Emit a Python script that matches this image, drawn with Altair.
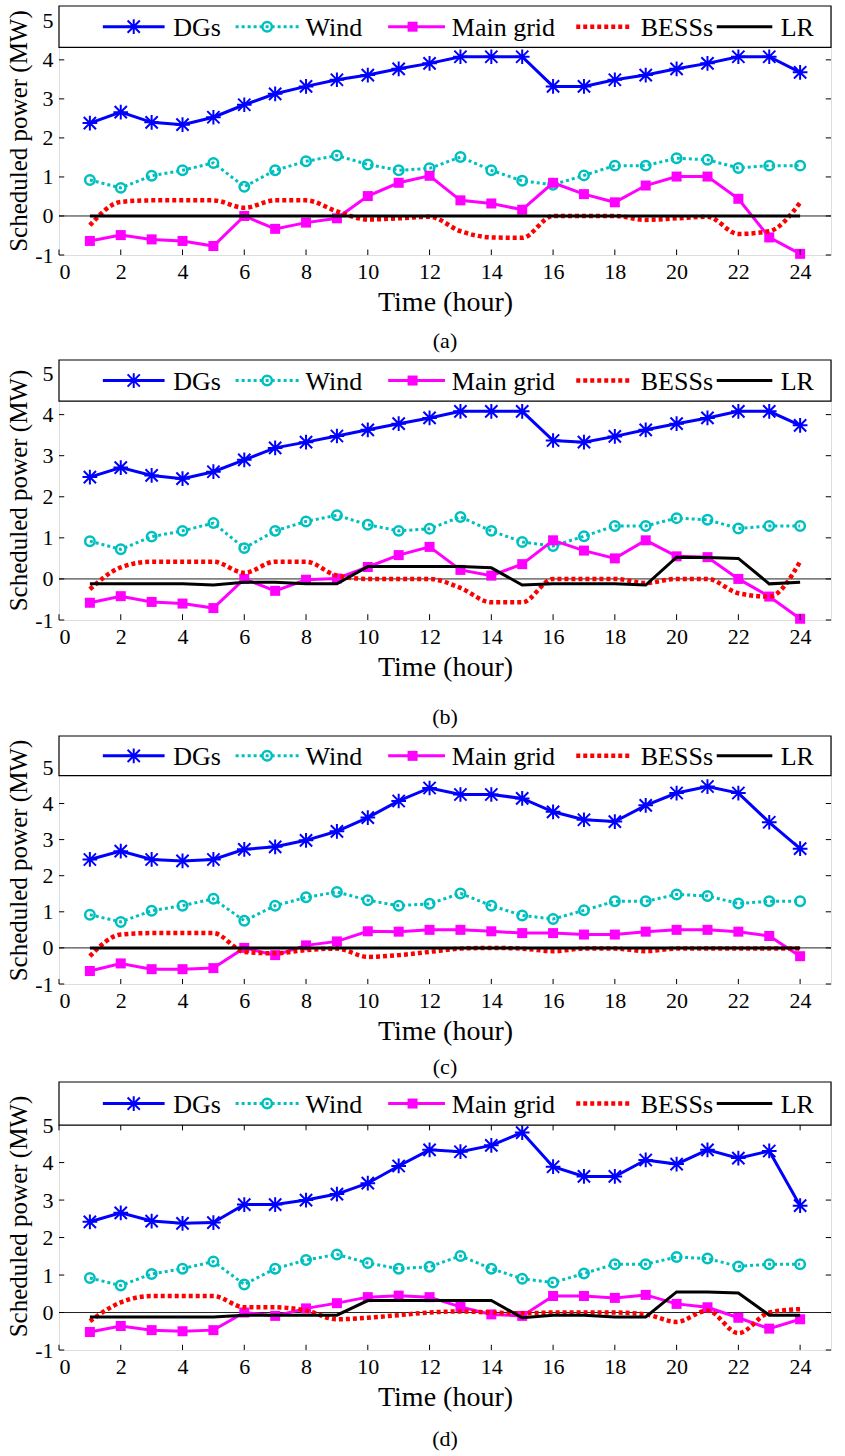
import altair as alt
import pandas as pd

hours = [1, 2, 3, 4, 5, 6, 7, 8, 9, 10, 11, 12, 13, 14, 15, 16, 17, 18, 19, 20, 21, 22, 23, 24]
x_ticks = [0, 2, 4, 6, 8, 10, 12, 14, 16, 18, 20, 22, 24]
y_ticks = [-1, 0, 1, 2, 3, 4, 5]

wind = [0.92, 0.72, 1.03, 1.17, 1.36, 0.75, 1.17, 1.40, 1.55, 1.32, 1.17, 1.22,
        1.51, 1.17, 0.90, 0.80, 1.04, 1.29, 1.29, 1.48, 1.44, 1.23, 1.29, 1.29]

dg_a = [2.38, 2.66, 2.40, 2.34, 2.53, 2.85, 3.13, 3.32, 3.49, 3.61, 3.77, 3.91,
        4.08, 4.08, 4.08, 3.32, 3.32, 3.49, 3.61, 3.77, 3.91, 4.08, 4.08, 3.68]
grid_a = [-0.64, -0.49, -0.60, -0.64, -0.77, 0.00, -0.33, -0.17, -0.06, 0.51, 0.85, 1.03,
          0.40, 0.32, 0.16, 0.85, 0.56, 0.35, 0.78, 1.01, 1.01, 0.44, -0.55, -0.97]
bess_a = [-0.24, 0.36, 0.40, 0.40, 0.40, 0.21, 0.40, 0.40, 0.12, -0.09, -0.06, -0.02,
          -0.39, -0.55, -0.56, 0.00, 0.00, 0.00, -0.10, -0.06, -0.02, -0.46, -0.39, 0.34]
lr_a = [0.0, 0.0, 0.0, 0.0, 0.0, 0.0, 0.0, 0.0, 0.0, 0.0, 0.0, 0.0,
        0.0, 0.0, 0.0, 0.0, 0.0, 0.0, 0.0, 0.0, 0.0, 0.0, 0.0, 0.0]

dg_b = [2.48, 2.71, 2.52, 2.44, 2.61, 2.90, 3.19, 3.33, 3.48, 3.63, 3.78, 3.92,
        4.08, 4.08, 4.08, 3.37, 3.33, 3.47, 3.63, 3.78, 3.92, 4.08, 4.08, 3.74]
grid_b = [-0.58, -0.42, -0.56, -0.60, -0.71, 0.00, -0.29, -0.02, 0.01, 0.29, 0.58, 0.78,
          0.22, 0.08, 0.36, 0.94, 0.69, 0.50, 0.94, 0.55, 0.53, 0.00, -0.43, -0.97]
bess_b = [-0.25, 0.28, 0.42, 0.42, 0.42, 0.15, 0.42, 0.42, 0.08, 0.00, 0.00, 0.00,
          -0.22, -0.57, -0.57, 0.00, 0.00, 0.00, -0.10, 0.00, 0.00, -0.35, -0.43, 0.42]
lr_b = [-0.12, -0.12, -0.12, -0.12, -0.15, -0.08, -0.08, -0.12, -0.12, 0.30, 0.30, 0.30,
        0.30, 0.27, -0.15, -0.12, -0.12, -0.12, -0.15, 0.53, 0.52, 0.50, -0.12, -0.08]

dg_c = [2.45, 2.68, 2.45, 2.41, 2.45, 2.73, 2.80, 2.98, 3.23, 3.61, 4.07, 4.43,
        4.25, 4.25, 4.14, 3.77, 3.55, 3.50, 3.95, 4.29, 4.47, 4.29, 3.48, 2.75]
grid_c = [-0.64, -0.43, -0.59, -0.59, -0.56, 0.00, -0.20, 0.07, 0.18, 0.46, 0.45, 0.50,
          0.50, 0.46, 0.41, 0.41, 0.37, 0.37, 0.45, 0.50, 0.50, 0.45, 0.33, -0.23]
bess_c = [-0.23, 0.37, 0.41, 0.41, 0.41, -0.11, -0.15, -0.06, -0.02, -0.25, -0.20, -0.11,
          -0.02, 0.00, -0.02, -0.09, -0.02, -0.02, -0.09, -0.02, -0.02, -0.02, -0.02, -0.02]
lr_c = [0.0, 0.0, 0.0, 0.0, 0.0, 0.0, 0.0, 0.0, 0.0, 0.0, 0.0, 0.0,
        0.0, 0.0, 0.0, 0.0, 0.0, 0.0, 0.0, 0.0, 0.0, 0.0, 0.0, 0.0]

dg_d = [2.42, 2.66, 2.44, 2.38, 2.40, 2.88, 2.88, 3.00, 3.16, 3.45, 3.91, 4.34,
        4.29, 4.46, 4.80, 3.89, 3.63, 3.63, 4.07, 3.96, 4.34, 4.12, 4.31, 2.85]
grid_d = [-0.52, -0.36, -0.47, -0.50, -0.47, 0.00, -0.09, 0.11, 0.25, 0.41, 0.45, 0.41,
          0.15, -0.05, -0.09, 0.44, 0.44, 0.39, 0.47, 0.23, 0.14, -0.14, -0.43, -0.18]
bess_d = [-0.23, 0.27, 0.44, 0.44, 0.44, 0.14, 0.14, 0.05, -0.18, -0.14, -0.07, 0.00,
          0.03, 0.00, -0.02, 0.00, 0.00, 0.00, -0.05, -0.25, 0.05, -0.55, 0.00, 0.09]
lr_d = [-0.12, -0.12, -0.12, -0.12, -0.12, -0.07, -0.07, -0.07, -0.07, 0.32, 0.32, 0.32,
        0.32, 0.32, -0.14, -0.07, -0.07, -0.12, -0.12, 0.55, 0.55, 0.52, -0.07, -0.07]

series_names = ["DGs", "Wind", "Main grid", "BESSs", "LR"]

# ---------------- styling (kept apart from the data) ----------------
FONT = "Liberation Serif, Times New Roman, Times, serif"
STAR = "M-1,-1L1,1M-1,1L1,-1M0,-1.2L0,1.2M-1.2,0L1.2,0"
STYLE = {
    "DGs": dict(field="dg", color="#0000FF", dash=None, width=3, shape=STAR, size=150, filled=False, mw=2),
    "Wind": dict(field="wind", color="#00BFBF", dash=[3, 3], width=3, shape="circle", size=90, filled=False, mw=2.5),
    "Main grid": dict(field="grid", color="#FF00FF", dash=None, width=3, shape="square", size=100, filled=True, mw=1),
    "BESSs": dict(field="bess", color="#FF0000", dash=[4, 3], width=4.5, shape=None, interp="monotone"),
    "LR": dict(field="lr", color="#000000", dash=None, width=3, shape=None),
}
# legend layout in hour units: line start, line end, marker, text start
LEG_POS = {
    "DGs": (1.42, 3.42, 2.42, 3.7),
    "Wind": (5.72, 7.76, 6.74, 7.98),
    "Main grid": (10.66, 12.5, 11.45, 12.72),
    "BESSs": (16.75, 18.55, None, 18.84),
    "LR": (21.3, 23.1, None, 23.37),
}
XMAX = 25

panels = [
    dict(cap="(a)", dg=dg_a, grid=grid_a, bess=bess_a, lr=lr_a, ymax=5.38, leg=4.32, h=249, off=15),
    dict(cap="(b)", dg=dg_b, grid=grid_b, bess=bess_b, lr=lr_b, ymax=5.33, leg=4.33, h=260, off=26),
    dict(cap="(c)", dg=dg_c, grid=grid_c, bess=bess_c, lr=lr_c, ymax=5.87, leg=4.77, h=248, off=12),
    dict(cap="(d)", dg=dg_d, grid=grid_d, bess=bess_d, lr=lr_d, ymax=6.15, leg=5.00, h=268, off=18),
]


def make_panel(p):
    df = pd.DataFrame({"hour": hours, "dg": p["dg"], "wind": wind, "grid": p["grid"],
                       "bess": p["bess"], "lr": p["lr"]})
    xs = alt.Scale(domain=[0, XMAX], nice=False, zero=False)
    ys = alt.Scale(domain=[-1, p["ymax"]], nice=False, zero=False)
    xax = alt.Axis(values=x_ticks, title="Time (hour)", labelExpr="'' + datum.value",
                   ticks=False, domain=False, grid=False, labelPadding=6, titlePadding=6,
                   labelFontSize=22, titleFontSize=28, titleFontWeight="normal",
                   labelColor="black", titleColor="black", labelFont=FONT, titleFont=FONT)
    yax = alt.Axis(values=y_ticks, title="Scheduled power (MW)", labelExpr="'' + datum.value",
                   ticks=False, domain=False, grid=False, labelPadding=6, titlePadding=3,
                   labelFontSize=22, titleFontSize=25, titleFontWeight="normal",
                   labelColor="black", titleColor="black", labelFont=FONT, titleFont=FONT)

    def X(f):
        return alt.X(f, type="quantitative", scale=xs, axis=xax)

    def Y(f):
        return alt.Y(f, type="quantitative", scale=ys, axis=yax)

    layers = []
    zero = pd.DataFrame({"x1": [0], "x2": [XMAX], "y": [0]})
    layers.append(alt.Chart(zero).mark_rule(color="#222222", strokeWidth=1).encode(
        x=X("x1"), x2="x2", y=Y("y")))

    for name in series_names:
        st = STYLE[name]
        kw = dict(color=st["color"], strokeWidth=st["width"])
        if st["dash"]:
            kw["strokeDash"] = st["dash"]
        if st.get("interp"):
            kw["interpolate"] = st["interp"]
        layers.append(alt.Chart(df).mark_line(**kw).encode(x=X("hour"), y=Y(st["field"])))
        if st["shape"]:
            layers.append(alt.Chart(df).mark_point(
                shape=st["shape"], size=st["size"], filled=st["filled"], opacity=1,
                color=st["color"], strokeWidth=st["mw"]).encode(x=X("hour"), y=Y(st["field"])))

    # legend box
    box = pd.DataFrame({"x1": [0], "x2": [XMAX], "y1": [p["leg"]], "y2": [p["ymax"]]})
    layers.append(alt.Chart(box).mark_rect(fill="white", stroke="black", strokeWidth=1.2).encode(
        x=X("x1"), x2="x2", y=Y("y1"), y2="y2"))
    ly = (p["leg"] + p["ymax"]) / 2
    for name in series_names:
        st = STYLE[name]
        x1, x2, xm, xt = LEG_POS[name]
        seg = pd.DataFrame({"x1": [x1], "x2": [x2], "y": [ly], "xm": [xm if xm else x1],
                            "xt": [xt], "label": [name]})
        kw = dict(color=st["color"], strokeWidth=st["width"])
        if st["dash"]:
            kw["strokeDash"] = st["dash"]
        layers.append(alt.Chart(seg).mark_rule(**kw).encode(x=X("x1"), x2="x2", y=Y("y")))
        if st["shape"] and xm:
            layers.append(alt.Chart(seg).mark_point(
                shape=st["shape"], size=st["size"], filled=st["filled"], opacity=1,
                color=st["color"], strokeWidth=st["mw"]).encode(x=X("xm"), y=Y("y")))
        layers.append(alt.Chart(seg).mark_text(
            align="left", baseline="middle", font=FONT, fontSize=26, color="black", dy=1).encode(
            x=X("xt"), y=Y("y"), text="label:N"))

    # inward ticks (MATLAB style)
    tx = 0.17
    ty = 0.14
    bt = pd.DataFrame({"x": x_ticks, "y1": [-1] * len(x_ticks), "y2": [-1 + ty] * len(x_ticks)})
    layers.append(alt.Chart(bt).mark_rule(color="black", strokeWidth=1).encode(
        x=X("x"), y=Y("y1"), y2="y2"))
    if p["leg"] >= 5:
        tt = pd.DataFrame({"x": x_ticks, "y1": [5] * len(x_ticks), "y2": [5 - ty] * len(x_ticks)})
        layers.append(alt.Chart(tt).mark_rule(color="black", strokeWidth=1).encode(
            x=X("x"), y=Y("y1"), y2="y2"))
    yv = [v for v in y_ticks if v < p["leg"]]
    lt = pd.DataFrame({"y": yv, "x1": [0] * len(yv), "x2": [tx] * len(yv),
                       "x3": [XMAX - tx] * len(yv), "x4": [XMAX] * len(yv)})
    layers.append(alt.Chart(lt).mark_rule(color="black", strokeWidth=1).encode(
        x=X("x1"), x2="x2", y=Y("y")))
    layers.append(alt.Chart(lt).mark_rule(color="black", strokeWidth=1).encode(
        x=X("x3"), x2="x4", y=Y("y")))

    return alt.layer(*layers).properties(
        width=772, height=p["h"],
        title=alt.TitleParams(p["cap"], orient="bottom", fontSize=22, fontWeight="normal",
                              font=FONT, color="black", offset=p["off"], frame="group",
                              anchor="middle"))


charts = [make_panel(p) for p in panels]
top_block = alt.vconcat(charts[0], charts[1], charts[2], spacing=5)
chart = alt.vconcat(top_block, charts[3], spacing=1).properties(
    padding={"left": 6, "top": 4, "right": 3, "bottom": 0}
).configure_view(stroke="black", strokeWidth=1.2).configure(font=FONT, background="white")

chart.save("out.html", embed_options={"renderer": "svg", "actions": False})
